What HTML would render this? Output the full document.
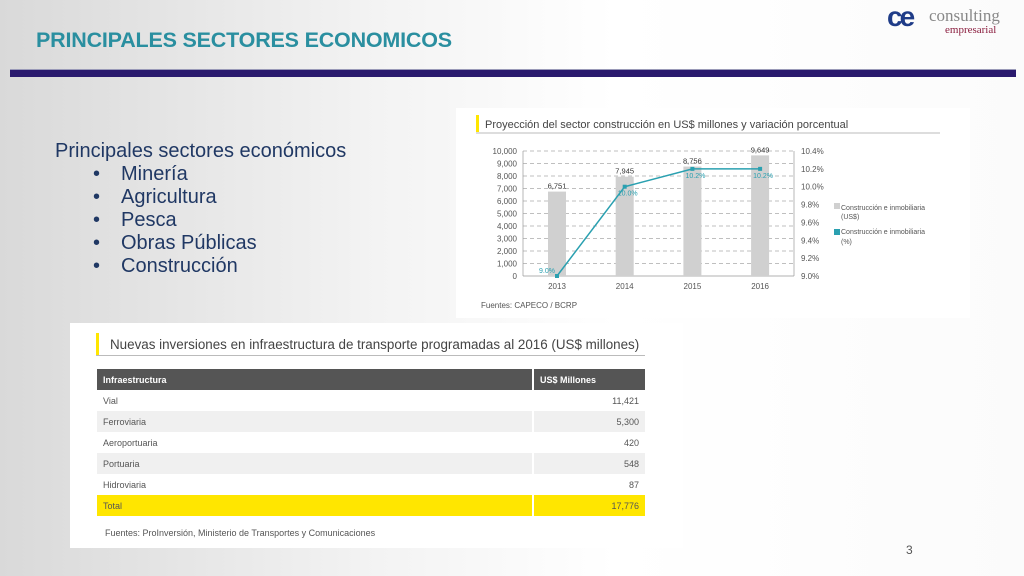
<!DOCTYPE html>
<html><head><meta charset="utf-8">
<style>
body{margin:0;width:1024px;height:576px;overflow:hidden;position:relative;font-family:"Liberation Sans",sans-serif;
background:linear-gradient(90deg,#d9d9d9 0%,#f2f2f2 35%,#ffffff 60%,#fbfbfb 100%);}
.abs{position:absolute}
.bl{position:absolute;left:93px;font-size:20px;color:#203864}
.bt{position:absolute;left:121px;font-size:20px;color:#203864}
</style></head><body>
<div class="abs" style="left:36px;top:28px;font-size:21.5px;font-weight:bold;color:#2a8fa0;letter-spacing:-0.2px">PRINCIPALES SECTORES ECONOMICOS</div>
<div class="abs" style="left:887px;top:4px;width:130px;height:36px">
 <span style="position:absolute;left:0;top:-3px;font-size:28px;font-weight:bold;color:#1f3c88;letter-spacing:-3px">ce</span>
 <span style="position:absolute;left:42px;top:2px;font-family:'Liberation Serif',serif;font-size:17px;color:#888">consulting</span>
 <span style="position:absolute;left:58px;top:20px;font-family:'Liberation Serif',serif;font-size:11px;color:#8b1e3f">empresarial</span>
</div>
<div class="abs" style="left:10px;top:69px;width:1006px;height:7px;background:#2a1a6e;border-top:1px solid #9a9ab8"></div>

<div class="abs" style="left:55px;top:140px;font-size:20px;color:#203864">Principales sectores económicos</div>
<div>
<span class="bl" style="top:163px">•</span><span class="bt" style="top:163px">Minería</span>
<span class="bl" style="top:186px">•</span><span class="bt" style="top:186px">Agricultura</span>
<span class="bl" style="top:209px">•</span><span class="bt" style="top:209px">Pesca</span>
<span class="bl" style="top:232px">•</span><span class="bt" style="top:232px">Obras Públicas</span>
<span class="bl" style="top:255px">•</span><span class="bt" style="top:255px">Construcción</span>
</div>

<svg class="abs" style="left:456px;top:108px" width="514" height="210" viewBox="456 108 514 210">
<rect x="456" y="108" width="514" height="210" fill="#fff"/>
<rect x="476" y="115" width="3" height="17" fill="#ffe600"/>
<text x="485" y="128" font-size="11" fill="#444" font-family="Liberation Sans">Proyección del sector construcción en US$ millones y variación porcentual</text>
<line x1="476" y1="133" x2="940" y2="133" stroke="#bbb" stroke-width="1"/>
<g id="plot"></g>
<text x="481" y="308" font-size="8" fill="#555" font-family="Liberation Sans">Fuentes: CAPECO / BCRP</text>
<rect x="834" y="203" width="6" height="6" fill="#d0d0d0"/>
<text x="841" y="210" font-size="7" fill="#555" font-family="Liberation Sans">Construcción e inmobiliaria</text>
<text x="841" y="219" font-size="7" fill="#555" font-family="Liberation Sans">(US$)</text>
<rect x="834" y="229" width="6" height="6" fill="#2aa0b0"/>
<text x="841" y="234" font-size="7" fill="#555" font-family="Liberation Sans">Construcción e inmobiliaria</text>
<text x="841" y="244" font-size="7" fill="#555" font-family="Liberation Sans">(%)</text>
</svg>

<div class="abs" style="left:70px;top:323px;width:613px;height:225px;background:#fff">
 <div class="abs" style="left:26px;top:10px;width:3px;height:22px;background:#ffe600"></div>
 <div class="abs" style="left:40px;top:14px;font-size:13.4px;color:#444">Nuevas inversiones en infraestructura de transporte programadas al 2016 (US$ millones)</div>
 <div class="abs" style="left:26px;top:32px;width:549px;height:1px;background:#bbb"></div>
 <table style="position:absolute;left:27px;top:46px;width:548px;border-collapse:collapse;font-size:9px;color:#555">
  <tr style="background:#555;color:#fff;height:21px"><td style="padding-left:6px;font-weight:bold">Infraestructura</td><td style="width:104px;border-left:2px solid #fff;padding-left:6px;font-weight:bold">US$ Millones</td></tr>
  <tr style="height:21px;background:#fff"><td style="padding-left:6px">Vial</td><td style="text-align:right;padding-right:6px;border-left:2px solid #fff">11,421</td></tr>
  <tr style="height:21px;background:#f0f0f0"><td style="padding-left:6px">Ferroviaria</td><td style="text-align:right;padding-right:6px;border-left:2px solid #fff">5,300</td></tr>
  <tr style="height:21px;background:#fff"><td style="padding-left:6px">Aeroportuaria</td><td style="text-align:right;padding-right:6px;border-left:2px solid #fff">420</td></tr>
  <tr style="height:21px;background:#f0f0f0"><td style="padding-left:6px">Portuaria</td><td style="text-align:right;padding-right:6px;border-left:2px solid #fff">548</td></tr>
  <tr style="height:21px;background:#fff"><td style="padding-left:6px">Hidroviaria</td><td style="text-align:right;padding-right:6px;border-left:2px solid #fff">87</td></tr>
  <tr style="height:21px;background:#ffe600"><td style="padding-left:6px">Total</td><td style="text-align:right;padding-right:6px;border-left:2px solid #fff">17,776</td></tr>
 </table>
 <div class="abs" style="left:35px;top:205px;font-size:9px;color:#555">Fuentes: ProInversión, Ministerio de Transportes y Comunicaciones</div>
</div>
<div class="abs" style="left:906px;top:543px;font-size:12px;color:#555">3</div>

<script>
const years=["2013","2014","2015","2016"];
const usd=[6751,7945,8756,9649];
const usdLabels=["6,751","7,945","8,756","9,649"];
const pct=[9.0,10.0,10.2,10.2];
const pctLabels=["9.0%","10.0%","10.2%","10.2%"];
const leftTicks=[0,1000,2000,3000,4000,5000,6000,7000,8000,9000,10000];
const rightTicks=[9.0,9.2,9.4,9.6,9.8,10.0,10.2,10.4];
const NS="http://www.w3.org/2000/svg";
const g=document.getElementById('plot');
const x0=523,x1=794,yB=276,yT=151;
const yL=v=>yB-(v/10000)*(yB-yT);
const yR=v=>yB-((v-9)/1.4)*(yB-yT);
const xC=i=>557+i*67.7;
function mk(t,a,txt){const e=document.createElementNS(NS,t);for(const k in a)e.setAttribute(k,a[k]);if(txt!==undefined)e.textContent=txt;g.appendChild(e);return e;}
leftTicks.forEach(v=>{
 const l=mk('line',{x1:x0,x2:x1,y1:yL(v),y2:yL(v),stroke:v===0?'#999':'#aaa','stroke-dasharray':v===0?'':'4,3','stroke-width':0.7});
 
 
 const t=mk('text',{x:517,y:yL(v)+3,'font-size':8,'text-anchor':'end',fill:'#555','font-family':'Liberation Sans'},v.toLocaleString('en-US'));
 
 
});
rightTicks.forEach(v=>{
 const t=mk('text',{x:801,y:yR(v)+3,'font-size':8,fill:'#555','font-family':'Liberation Sans'},v.toFixed(1)+'%');
 
 
});
mk('line',{x1:x0,x2:x0,y1:yT,y2:yB,stroke:'#999','stroke-width':0.7});
mk('line',{x1:x1,x2:x1,y1:yT,y2:yB,stroke:'#999','stroke-width':0.7});
years.forEach((y,i)=>{
 const b=mk('rect',{x:xC(i)-9,y:yL(usd[i]),width:18,height:yB-yL(usd[i]),fill:'#d0d0d0'});
 
 
 mk('text',{x:xC(i),y:yL(usd[i])-3,'font-size':7.5,'text-anchor':'middle',fill:'#333','font-family':'Liberation Sans'},usdLabels[i]);
 const t=mk('text',{x:xC(i),y:289,'font-size':8,'text-anchor':'middle',fill:'#555','font-family':'Liberation Sans'},y);
 
 
});
const pts=pct.map((v,i)=>xC(i)+','+yR(v)).join(' ');
const pl=mk('polyline',{points:pts,fill:'none',stroke:'#2aa0b0','stroke-width':1.5});


pct.forEach((v,i)=>{
 const c=mk('rect',{x:xC(i)-2,y:yR(v)-2,width:4,height:4,fill:'#2aa0b0'});
 
 
 const dx=i===0?-10:3;
 mk('text',{x:xC(i)+dx,y:yR(v)+(i===0?-3:9),'font-size':7,'text-anchor':'middle',fill:'#2aa0b0','font-family':'Liberation Sans'},pctLabels[i]);
});
</script>
</body></html>
